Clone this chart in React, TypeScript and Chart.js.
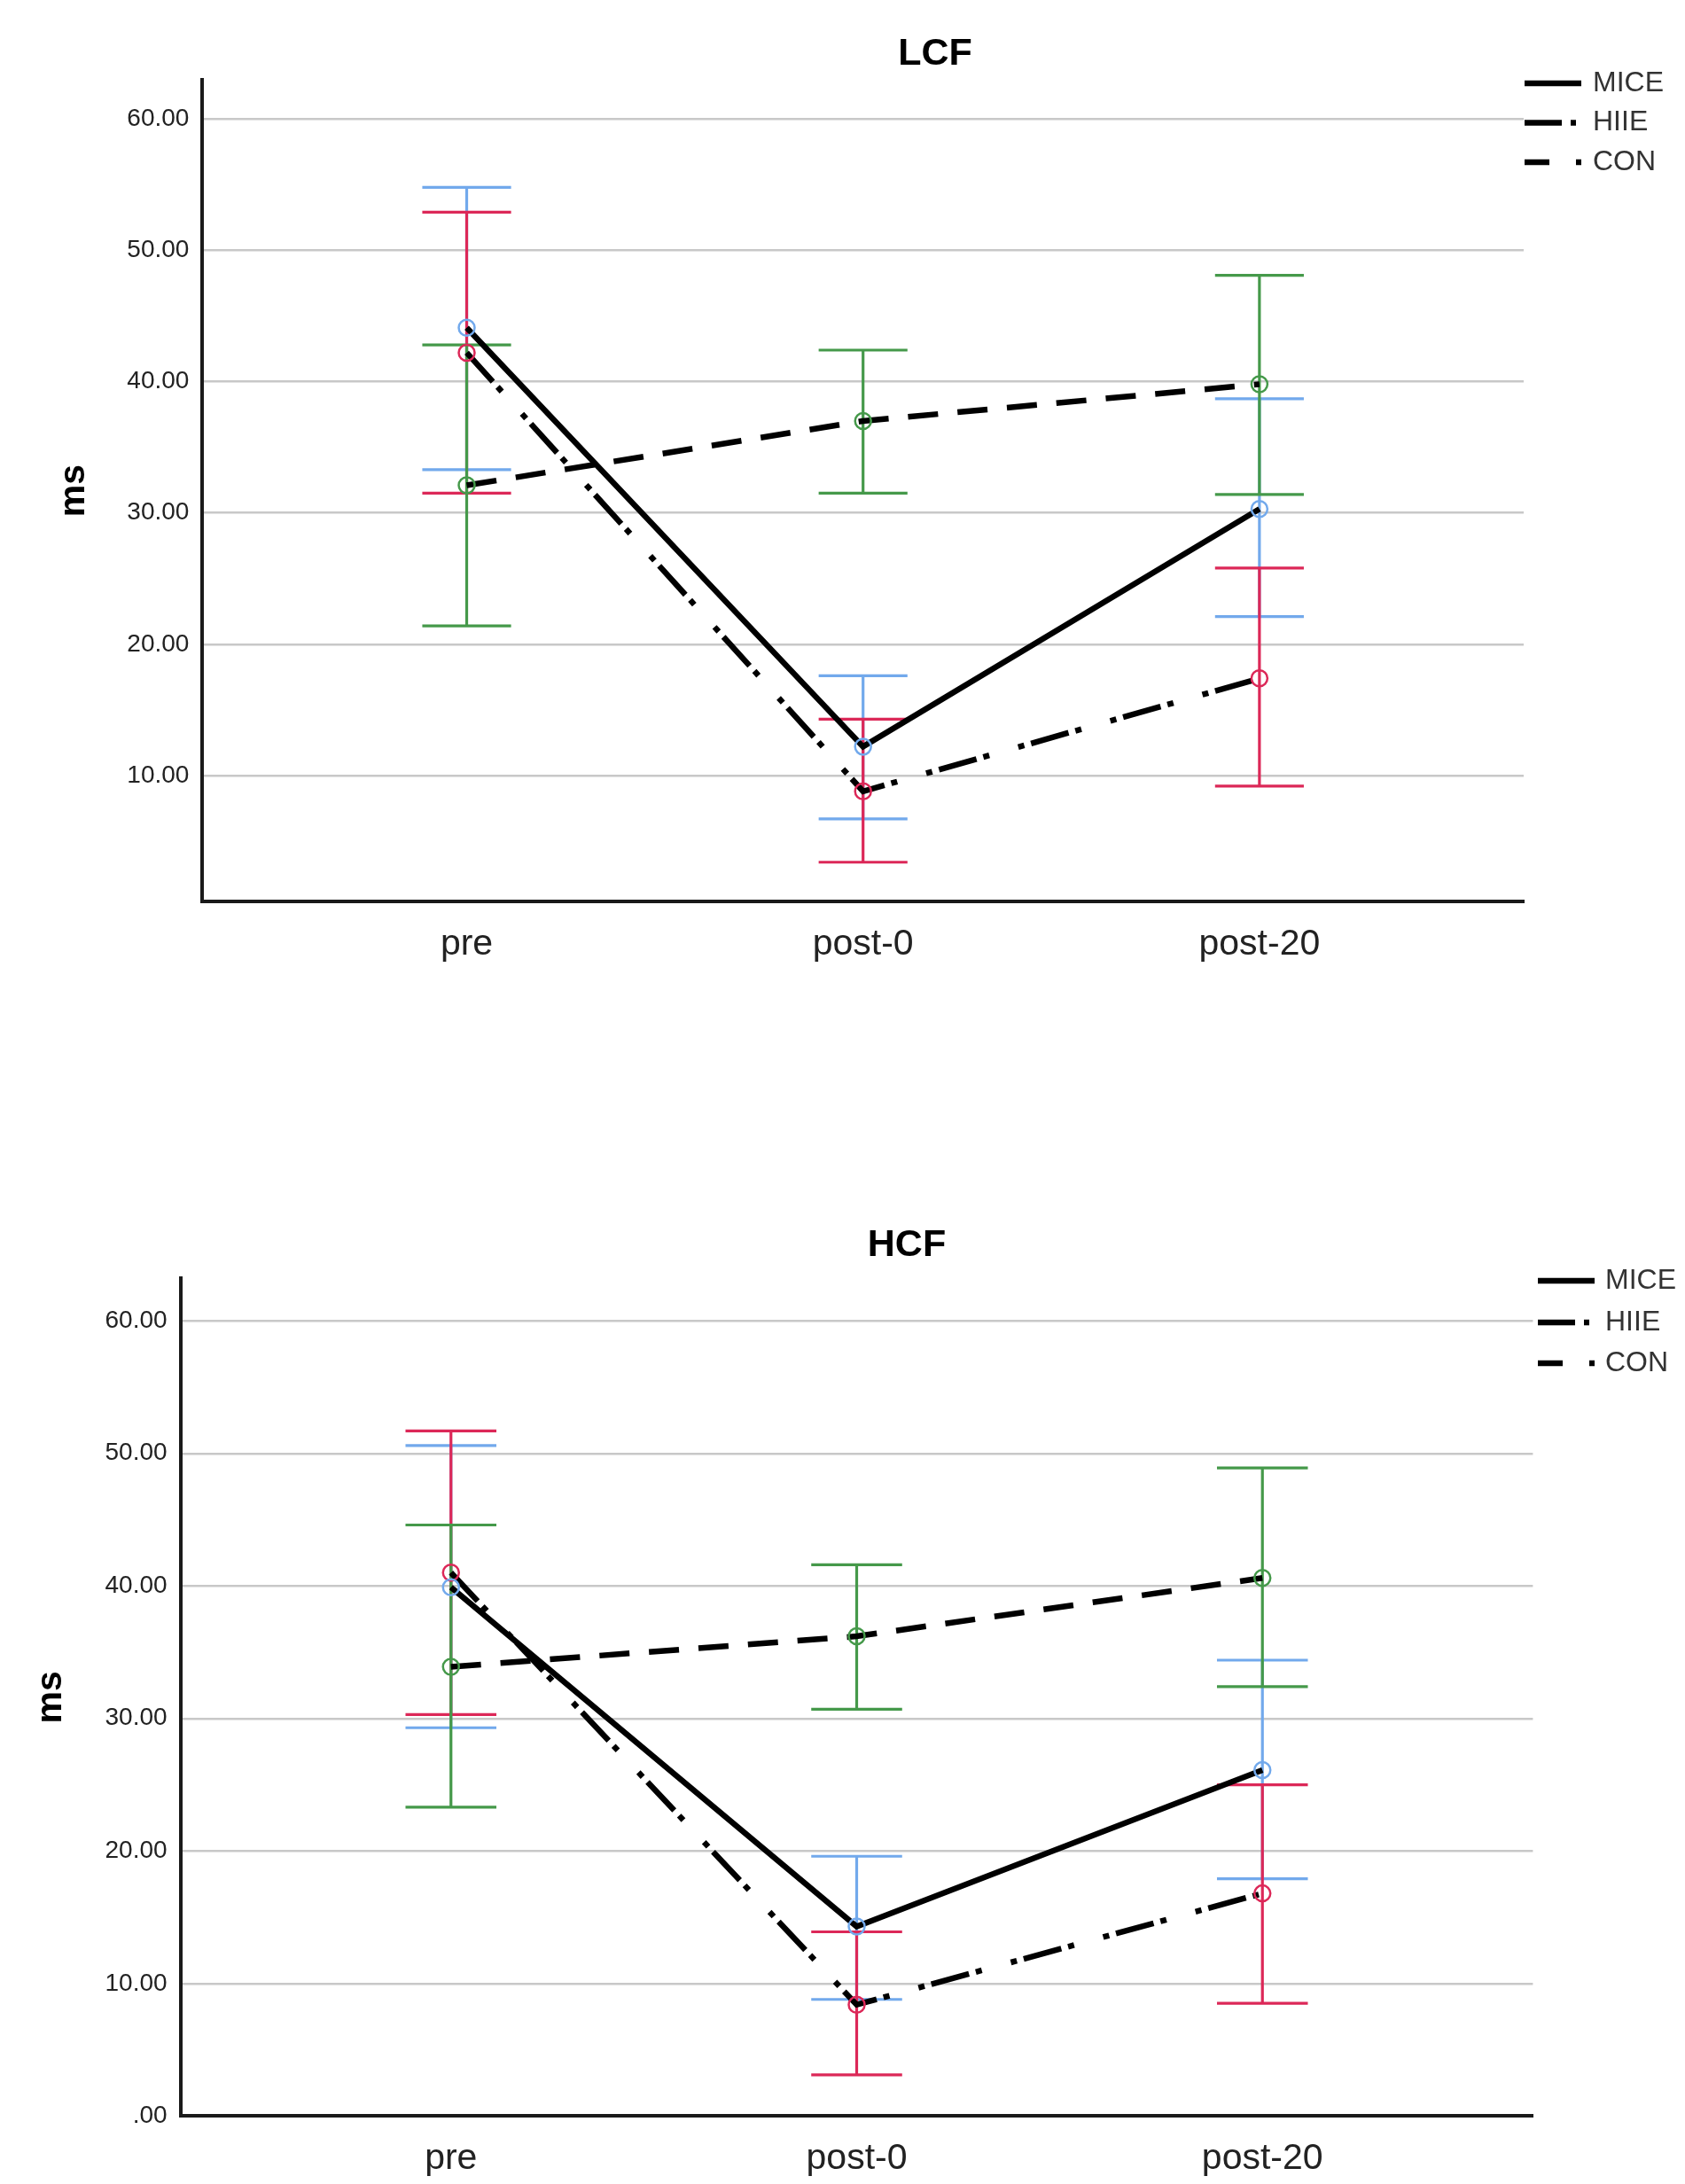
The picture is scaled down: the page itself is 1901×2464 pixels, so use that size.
import React, { useEffect, useRef } from 'react';
import { Chart, registerables } from 'chart.js';

Chart.register(...registerables);

// ---------- data ----------
const categories = ['pre', 'post-0', 'post-20'];
const groups = ['MICE', 'HIIE', 'CON'];

// LCF
const lcfMICE = [44.1, 12.2, 30.3];
const lcfMICELow = [33.3, 6.7, 22.1];
const lcfMICEHigh = [54.8, 17.6, 38.7];
const lcfHIIE = [42.2, 8.8, 17.4];
const lcfHIIELow = [31.5, 3.4, 9.2];
const lcfHIIEHigh = [52.9, 14.3, 25.8];
const lcfCON = [32.1, 37.0, 39.8];
const lcfCONLow = [21.4, 31.5, 31.4];
const lcfCONHigh = [42.8, 42.4, 48.1];

// HCF
const hcfMICE = [39.9, 14.3, 26.1];
const hcfMICELow = [29.3, 8.8, 17.9];
const hcfMICEHigh = [50.6, 19.6, 34.4];
const hcfHIIE = [41.0, 8.4, 16.8];
const hcfHIIELow = [30.3, 3.1, 8.5];
const hcfHIIEHigh = [51.7, 13.9, 25.0];
const hcfCON = [33.9, 36.2, 40.6];
const hcfCONLow = [23.3, 30.7, 32.4];
const hcfCONHigh = [44.6, 41.6, 48.9];

const lcfYTicks = [10, 20, 30, 40, 50, 60];
const lcfYTickLabels = ['10.00', '20.00', '30.00', '40.00', '50.00', '60.00'];
const hcfYTicks = [0, 10, 20, 30, 40, 50, 60];
const hcfYTickLabels = ['.00', '10.00', '20.00', '30.00', '40.00', '50.00', '60.00'];

// ---------- styles ----------
const FONT = '"Liberation Sans", Arial, sans-serif';
const groupColors = ['#72a9ec', '#dc2858', '#45994a'];
const groupDash = [[], [44, 8, 7, 34, 7, 8], [34, 22]];
const legendDash = [[], [42, 10, 6, 200], [28, 30, 6, 200]];

type Spec = {
  title: string;
  canvasH: number;
  offsetTop: number;
  top: number;
  bottom: number;
  left: number;
  right: number;
  yMin: number;
  yMax: number;
  yTicks: number[];
  yTickLabels: string[];
  titleX: number;
  titleY: number;
  legendX0: number;
  legendX1: number;
  legendTextX: number;
  legendY: number[];
  msPad: number;
  means: number[][];
  lows: number[][];
  highs: number[][];
};

const specs: Spec[] = [
  {
    title: 'LCF', canvasH: 1230, offsetTop: 0,
    top: 89.8, bottom: 1017.2, left: 228.4, right: 1719,
    yMin: 0.4, yMax: 63, yTicks: lcfYTicks, yTickLabels: lcfYTickLabels,
    titleX: 1055, titleY: 61,
    legendX0: 1720, legendX1: 1784, legendTextX: 1797, legendY: [94, 138.5, 183],
    msPad: 59.4,
    means: [lcfMICE, lcfHIIE, lcfCON],
    lows: [lcfMICELow, lcfHIIELow, lcfCONLow],
    highs: [lcfMICEHigh, lcfHIIEHigh, lcfCONHigh],
  },
  {
    title: 'HCF', canvasH: 1234, offsetTop: 1230,
    top: 212.4, bottom: 1157.3, left: 203.6, right: 1729.4,
    yMin: 0, yMax: 63.2, yTicks: hcfYTicks, yTickLabels: hcfYTickLabels,
    titleX: 1023, titleY: 175,
    legendX0: 1735, legendX1: 1799, legendTextX: 1811, legendY: [215, 262, 308],
    msPad: 33,
    means: [hcfMICE, hcfHIIE, hcfCON],
    lows: [hcfMICELow, hcfHIIELow, hcfCONLow],
    highs: [hcfMICEHigh, hcfHIIEHigh, hcfCONHigh],
  },
];

function makeConfig(spec: Spec): any {
  const W = 1901;
  const datasets = groups.map((g, gi) => ({
    label: g,
    data: spec.means[gi].map((v, i) => ({ x: i, y: v })),
    borderColor: '#000',
    borderWidth: 6.5,
    borderDash: groupDash[gi],
    borderCapStyle: 'butt',
    fill: false,
    tension: 0,
    pointStyle: 'circle',
    pointRadius: 9,
    pointBorderWidth: 2.5,
    pointBorderColor: groupColors[gi],
    pointBackgroundColor: 'rgba(0,0,0,0)',
    errLow: spec.lows[gi],
    errHigh: spec.highs[gi],
    errColor: groupColors[gi],
  }));

  const errorBars = {
    id: 'errorBars',
    beforeDatasetsDraw(chart: any) {
      const { ctx } = chart;
      const x = chart.scales.x;
      const y = chart.scales.y;
      const spacing = x.getPixelForValue(1) - x.getPixelForValue(0);
      const half = spacing * 0.112;
      chart.data.datasets.forEach((ds: any) => {
        ctx.save();
        ctx.strokeStyle = ds.errColor;
        ctx.lineWidth = 3.2;
        ctx.setLineDash([]);
        ds.errLow.forEach((lo: number, i: number) => {
          const px = x.getPixelForValue(i);
          const pl = y.getPixelForValue(lo);
          const ph = y.getPixelForValue(ds.errHigh[i]);
          ctx.beginPath();
          ctx.moveTo(px, pl);
          ctx.lineTo(px, ph);
          ctx.moveTo(px - half, pl);
          ctx.lineTo(px + half, pl);
          ctx.moveTo(px - half, ph);
          ctx.lineTo(px + half, ph);
          ctx.stroke();
        });
        ctx.restore();
      });
    },
  };

  const decor = {
    id: 'decor',
    afterDraw(chart: any) {
      const { ctx } = chart;
      ctx.save();
      ctx.fillStyle = '#000';
      ctx.font = `bold 43px ${FONT}`;
      ctx.textAlign = 'center';
      ctx.textBaseline = 'middle';
      ctx.fillText(spec.title, spec.titleX, spec.titleY);
      chart.data.datasets.forEach((ds: any, i: number) => {
        const yy = spec.legendY[i];
        ctx.beginPath();
        ctx.strokeStyle = '#000';
        ctx.lineWidth = 6.5;
        ctx.lineCap = 'butt';
        ctx.setLineDash(legendDash[i]);
        ctx.moveTo(spec.legendX0, yy);
        ctx.lineTo(spec.legendX1, yy);
        ctx.stroke();
        ctx.setLineDash([]);
        ctx.fillStyle = '#333';
        ctx.font = `32px ${FONT}`;
        ctx.textAlign = 'left';
        ctx.textBaseline = 'middle';
        ctx.fillText(ds.label, spec.legendTextX, yy);
      });
      ctx.restore();
    },
  };

  return {
    type: 'line',
    data: { datasets },
    options: {
      responsive: false,
      animation: false,
      devicePixelRatio: 1,
      layout: { padding: { left: 0, top: spec.top, right: W - spec.right, bottom: 0 } },
      plugins: { legend: { display: false }, title: { display: false }, tooltip: { enabled: false } },
      scales: {
        x: {
          type: 'linear',
          min: -2 / 3,
          max: 2 + 2 / 3,
          afterBuildTicks: (axis: any) => {
            axis.ticks = categories.map((_, i) => ({ value: i }));
          },
          afterFit: (scale: any) => {
            scale.height = spec.canvasH - spec.bottom;
          },
          grid: { display: false, drawTicks: false },
          border: { display: true, color: '#1a1a1a', width: 4 },
          ticks: {
            autoSkip: false,
            maxRotation: 0,
            padding: 24,
            color: '#222',
            font: { family: FONT, size: 41 },
            callback: (v: number) => categories[Math.round(v)],
          },
        },
        y: {
          type: 'linear',
          min: spec.yMin,
          max: spec.yMax,
          afterBuildTicks: (axis: any) => {
            axis.ticks = spec.yTicks.map((v) => ({ value: v }));
          },
          afterFit: (scale: any) => {
            scale.width = spec.left;
          },
          grid: { color: '#c8c8c8', lineWidth: 2.5, drawTicks: false },
          border: { display: true, color: '#1a1a1a', width: 4 },
          ticks: {
            autoSkip: false,
            padding: 15,
            color: '#222',
            font: { family: FONT, size: 28 },
            callback: (v: number) => {
              const idx = spec.yTicks.indexOf(v);
              return idx >= 0 ? spec.yTickLabels[idx] : '';
            },
          },
          title: {
            display: true,
            text: 'ms',
            color: '#000',
            font: { family: FONT, size: 41, weight: 'bold' },
            padding: { top: spec.msPad, bottom: 0 },
          },
        },
      },
    },
    plugins: [errorBars, decor],
  };
}

function SpssChart({ spec }: { spec: Spec }) {
  const ref = useRef<HTMLCanvasElement>(null);
  useEffect(() => {
    if (!ref.current) return;
    const chart = new Chart(ref.current, makeConfig(spec));
    return () => chart.destroy();
  }, [spec]);
  return (
    <canvas
      ref={ref}
      width={1901}
      height={spec.canvasH}
      style={{ position: 'absolute', left: 0, top: spec.offsetTop, width: 1901, height: spec.canvasH, display: 'block' }}
    />
  );
}

export default function App() {
  useEffect(() => {
    document.body.style.margin = '0';
  }, []);
  return (
    <div style={{ position: 'absolute', left: 0, top: 0, width: 1901, height: 2464, background: '#fff', overflow: 'hidden' }}>
      {specs.map((s) => (
        <SpssChart key={s.title} spec={s} />
      ))}
    </div>
  );
}
